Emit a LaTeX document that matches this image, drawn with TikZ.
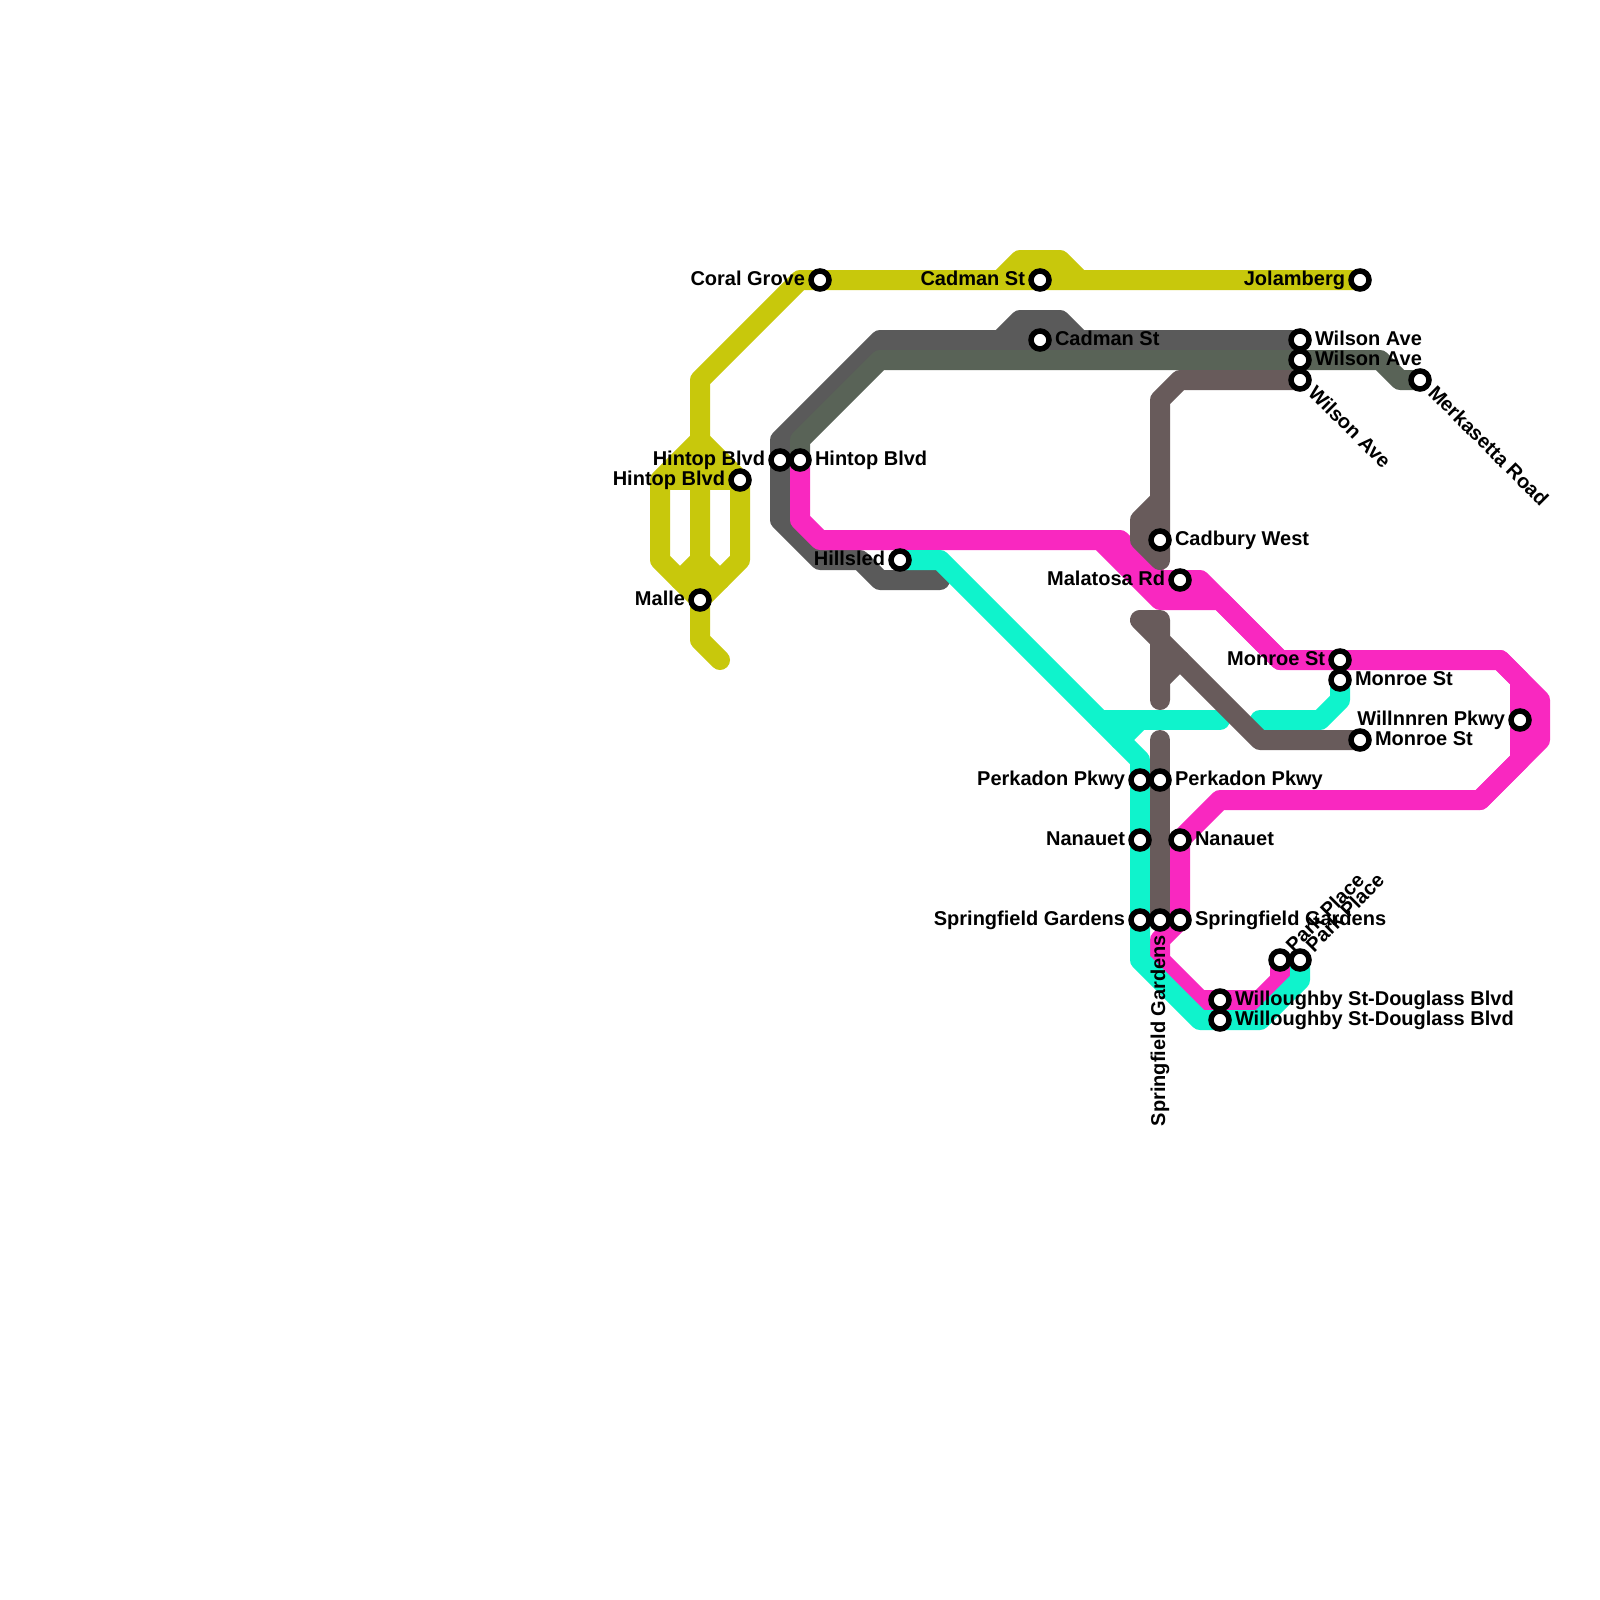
\documentclass[tikz,border=0pt]{standalone}
\usepackage{fontspec}
\setmainfont{Liberation Sans}
\definecolor{cyellow}{HTML}{C8C80C}
\definecolor{cdark}{HTML}{5A5A5A}
\definecolor{cgreen}{HTML}{596357}
\definecolor{cbrown}{HTML}{685B5B}
\definecolor{cpink}{HTML}{F928C0}
\definecolor{cteal}{HTML}{0FF3CC}
\pgfdeclarelayer{lines}
\pgfsetlayers{lines,main}
\tikzset{
  route/.style={line width=20pt,line join=round,line cap=round},
  stn/.style={circle,draw=black,fill=white,line width=5.5pt,minimum size=18pt,inner sep=0pt,outer sep=0pt},
  lbl/.style={inner sep=0pt,outer sep=0pt,font=\bfseries\fontsize{20}{22}\selectfont,text=black},
  lr/.style={lbl,anchor=base west},
  ll/.style={lbl,anchor=base east},
}
\newcommand{\st}[3]{\node[stn] (#1) at (#2,#3) {};}
\newcommand{\rlab}[4]{\node[lr] (#1) at ($(#2,#3)+(15,5)$) {#4};}
\newcommand{\llab}[4]{\node[ll] (#1) at ($(#2,#3)+(-15,5)$) {#4};}
\usetikzlibrary{calc}
\begin{document}
\begin{tikzpicture}[x=1pt,y=-1pt]
\useasboundingbox (0,0) rectangle (1600,1600);
% labels
\llab{lCoral}{820}{280}{Coral Grove}
\llab{lCadA}{1040}{280}{Cadman St}
\llab{lJol}{1360}{280}{Jolamberg}
\rlab{lCadB}{1040}{340}{Cadman St}
\rlab{lWilA}{1300}{340}{Wilson Ave}
\rlab{lWilB}{1300}{360}{Wilson Ave}
\node[lr,rotate=-45] (lWilC) at (1307,394) {Wilson Ave};
\node[lr,rotate=-45] (lMerk) at (1427,394) {Merkasetta Road};
\llab{lHinA}{780}{460}{Hintop Blvd}
\rlab{lHinB}{800}{460}{Hintop Blvd}
\llab{lHinC}{740}{480}{Hintop Blvd}
\llab{lMalle}{700}{600}{Malle}
\llab{lHill}{900}{560}{Hillsled}
\rlab{lCadbury}{1160}{540}{Cadbury West}
\llab{lMala}{1180}{580}{Malatosa Rd}
\llab{lMonA}{1340}{660}{Monroe St}
\rlab{lMonB}{1340}{680}{Monroe St}
\rlab{lMonC}{1360}{740}{Monroe St}
\llab{lWill}{1520}{720}{Willnnren Pkwy}
\llab{lPerA}{1140}{780}{Perkadon Pkwy}
\rlab{lPerB}{1160}{780}{Perkadon Pkwy}
\llab{lNanA}{1140}{840}{Nanauet}
\rlab{lNanB}{1180}{840}{Nanauet}
\llab{lSprA}{1140}{920}{Springfield Gardens}
\rlab{lSprC}{1180}{920}{Springfield Gardens}
\node[lbl,anchor=base east,rotate=90] (lSprB) at (1165,935) {Springfield Gardens};
\node[lr,rotate=45] (lParkA) at (1294,953) {Park Place};
\node[lr,rotate=45] (lParkB) at (1314,953) {Park Place};
\rlab{lWouA}{1220}{1000}{Willoughby St-Douglass Blvd}
\rlab{lWouB}{1220}{1020}{Willoughby St-Douglass Blvd}
% stations
\st{coral}{820}{280}
\st{cadA}{1040}{280}
\st{jol}{1360}{280}
\st{cadB}{1040}{340}
\st{wilA}{1300}{340}
\st{wilB}{1300}{360}
\st{wilC}{1300}{380}
\st{merk}{1420}{380}
\st{hinA}{780}{460}
\st{hinB}{800}{460}
\st{hinC}{740}{480}
\st{malle}{700}{600}
\st{hill}{900}{560}
\st{cadbury}{1160}{540}
\st{mala}{1180}{580}
\st{monA}{1340}{660}
\st{monB}{1340}{680}
\st{monC}{1360}{740}
\st{will}{1520}{720}
\st{perA}{1140}{780}
\st{perB}{1160}{780}
\st{nanA}{1140}{840}
\st{nanB}{1180}{840}
\st{sprA}{1140}{920}
\st{sprB}{1160}{920}
\st{sprC}{1180}{920}
\st{parkA}{1280}{960}
\st{parkB}{1300}{960}
\st{wouA}{1220}{1000}
\st{wouB}{1220}{1020}
\begin{pgfonlayer}{lines}
\fill[white] (0,0) rectangle (1600,1600);
% yellow
\draw[route,cyellow] (jol.center) -- (cadA.center) -- (coral.center) -- (800,280) -- (700,380) -- (700,440) -- (malle.center) -- (700,640) -- (720,660);
\draw[route,cyellow] (1000,280) -- (1020,260) -- (1060,260) -- (1080,280);
\draw[route,cyellow] (700,440) -- (660,480) -- (660,560) -- (malle.center);
\draw[route,cyellow] (700,440) -- (hinC.center) -- (740,560) -- (malle.center);
\draw[route,cyellow,line cap=butt] (660,480) -- (hinC.center);
\draw[route,cyellow,line cap=butt] (680,460) -- (720,460);
\draw[route,cyellow] (680,580) -- (700,560) -- (720,580);
% dark grey
\draw[route,cdark] (wilA.center) -- (cadB.center) -- (880,340) -- (780,440) -- (hinA.center) -- (780,520) -- (820,560) -- (860,560) -- (880,580) -- (940,580);
\draw[route,cdark] (1000,340) -- (1020,320) -- (1060,320) -- (1080,340);
% grey-green
\draw[route,cgreen] (merk.center) -- (1400,380) -- (1380,360) -- (wilB.center) -- (880,360) -- (800,440) -- (hinB.center);
% pink
\draw[route,cpink] (hinB.center) -- (800,520) -- (820,540) -- (1100,540) -- (1160,600) -- (1220,600) -- (1280,660) -- (monA.center) -- (1500,660) -- (1520,680) -- (will.center) -- (1520,760) -- (1480,800) -- (1220,800) -- (nanB.center) -- (sprC.center) -- (1160,940) -- (1160,960) -- (1200,1000) -- (wouA.center) -- (1260,1000) -- (1280,980) -- (parkA.center);
\draw[route,cpink] (1100,540) -- (1120,540) -- (1160,580) -- (mala.center) -- (1200,580) -- (1280,660);
\draw[route,cpink] (1500,660) -- (1540,700) -- (1540,740) -- (1480,800);
% teal
\draw[route,cteal] (hill.center) -- (940,560) -- (1140,760) -- (perA.center) -- (nanA.center) -- (sprA.center) -- (1140,960) -- (1200,1020) -- (wouB.center) -- (1260,1020) -- (1300,980) -- (parkB.center);
\draw[route,cteal] (1100,720) -- (1220,720);
\draw[route,cteal] (1120,740) -- (1140,720);
\draw[route,cteal] (monB.center) -- (1340,700) -- (1320,720) -- (1260,720);
% brown
\draw[route,cbrown] (wilC.center) -- (1180,380) -- (1160,400) -- (cadbury.center) -- (1160,560) -- (1140,540) -- (1140,520) -- (1160,500);
\draw[route,cbrown] (monC.center) -- (1260,740) -- (1140,620) -- (1160,620) -- (1160,700);
\draw[route,cbrown] (1160,680) -- (1180,660);
\draw[route,cbrown] (1160,740) -- (perB.center) -- (sprB.center);
\end{pgfonlayer}
\end{tikzpicture}
\end{document}
